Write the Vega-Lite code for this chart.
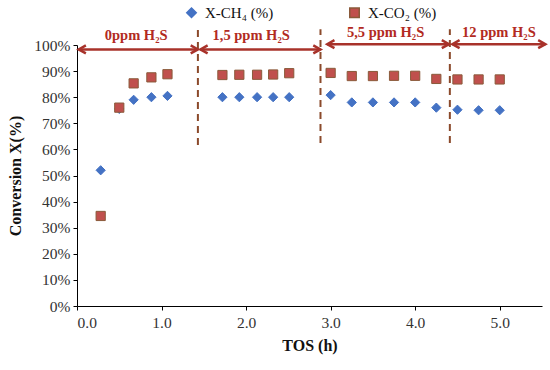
{
  "$schema": "https://vega.github.io/schema/vega-lite/v6.json",
  "autosize": {"type": "none"},
  "width": 465,
  "height": 261,
  "padding": {"left": 77, "top": 45, "right": 8, "bottom": 64},
  "background": "white",
  "config": {
    "view": {"stroke": null},
    "font": "Liberation Serif",
    "axis": {"grid": false, "domainColor": "#000000", "tickColor": "#000000", "labelColor": "#333333", "labelFont": "Liberation Serif", "labelFontSize": 15.5, "titleFont": "Liberation Serif", "titleFontSize": 16, "titleFontWeight": "bold", "titleColor": "#111111", "tickSize": 4, "labelOverlap": false}
  },
  "datasets": {
    "pts": [
      {"tos": 0.28, "value": 0.52, "series": "X-CH₄ (%)"},
      {"tos": 0.50, "value": 0.755, "series": "X-CH₄ (%)"},
      {"tos": 0.67, "value": 0.79, "series": "X-CH₄ (%)"},
      {"tos": 0.88, "value": 0.80, "series": "X-CH₄ (%)"},
      {"tos": 1.07, "value": 0.805, "series": "X-CH₄ (%)"},
      {"tos": 1.72, "value": 0.80, "series": "X-CH₄ (%)"},
      {"tos": 1.92, "value": 0.80, "series": "X-CH₄ (%)"},
      {"tos": 2.13, "value": 0.80, "series": "X-CH₄ (%)"},
      {"tos": 2.32, "value": 0.80, "series": "X-CH₄ (%)"},
      {"tos": 2.51, "value": 0.80, "series": "X-CH₄ (%)"},
      {"tos": 3.0, "value": 0.808, "series": "X-CH₄ (%)"},
      {"tos": 3.25, "value": 0.78, "series": "X-CH₄ (%)"},
      {"tos": 3.5, "value": 0.78, "series": "X-CH₄ (%)"},
      {"tos": 3.75, "value": 0.78, "series": "X-CH₄ (%)"},
      {"tos": 4.0, "value": 0.78, "series": "X-CH₄ (%)"},
      {"tos": 4.25, "value": 0.76, "series": "X-CH₄ (%)"},
      {"tos": 4.5, "value": 0.752, "series": "X-CH₄ (%)"},
      {"tos": 4.75, "value": 0.75, "series": "X-CH₄ (%)"},
      {"tos": 5.0, "value": 0.75, "series": "X-CH₄ (%)"},
      {"tos": 0.28, "value": 0.345, "series": "X-CO₂ (%)"},
      {"tos": 0.50, "value": 0.76, "series": "X-CO₂ (%)"},
      {"tos": 0.67, "value": 0.853, "series": "X-CO₂ (%)"},
      {"tos": 0.88, "value": 0.876, "series": "X-CO₂ (%)"},
      {"tos": 1.07, "value": 0.888, "series": "X-CO₂ (%)"},
      {"tos": 1.72, "value": 0.885, "series": "X-CO₂ (%)"},
      {"tos": 1.92, "value": 0.886, "series": "X-CO₂ (%)"},
      {"tos": 2.13, "value": 0.886, "series": "X-CO₂ (%)"},
      {"tos": 2.32, "value": 0.887, "series": "X-CO₂ (%)"},
      {"tos": 2.51, "value": 0.892, "series": "X-CO₂ (%)"},
      {"tos": 3.0, "value": 0.893, "series": "X-CO₂ (%)"},
      {"tos": 3.25, "value": 0.881, "series": "X-CO₂ (%)"},
      {"tos": 3.5, "value": 0.881, "series": "X-CO₂ (%)"},
      {"tos": 3.75, "value": 0.882, "series": "X-CO₂ (%)"},
      {"tos": 4.0, "value": 0.882, "series": "X-CO₂ (%)"},
      {"tos": 4.25, "value": 0.87, "series": "X-CO₂ (%)"},
      {"tos": 4.5, "value": 0.868, "series": "X-CO₂ (%)"},
      {"tos": 4.75, "value": 0.868, "series": "X-CO₂ (%)"},
      {"tos": 5.0, "value": 0.868, "series": "X-CO₂ (%)"}
    ],
    "arrows": [
      {"tos": 0.02, "tos2": 1.43, "value": 0.983},
      {"tos": 1.46, "tos2": 2.88, "value": 0.983},
      {"tos": 2.96, "tos2": 4.40, "value": 1.003},
      {"tos": 4.44, "tos2": 5.54, "value": 1.003}
    ],
    "headsLeft": [
      {"tos": 0.02, "value": 0.983},
      {"tos": 1.46, "value": 0.983},
      {"tos": 2.96, "value": 1.003},
      {"tos": 4.44, "value": 1.003}
    ],
    "headsRight": [
      {"tos": 1.43, "value": 0.983},
      {"tos": 2.88, "value": 0.983},
      {"tos": 4.40, "value": 1.003},
      {"tos": 5.54, "value": 1.003}
    ],
    "labels": [
      {"tos": 0.70, "value": 1.035, "label": "0ppm H₂S"},
      {"tos": 2.06, "value": 1.035, "label": "1,5 ppm H₂S"},
      {"tos": 3.65, "value": 1.047, "label": "5,5 ppm H₂S"},
      {"tos": 4.99, "value": 1.047, "label": "12 ppm H₂S"}
    ],
    "dividers": [
      {"tos": 1.43, "value": 0.617, "value2": 1.06},
      {"tos": 2.88, "value": 0.625, "value2": 1.06},
      {"tos": 4.41, "value": 0.625, "value2": 1.06}
    ]
  },
  "encoding": {
    "x": {"field": "tos", "type": "quantitative", "title": "TOS (h)", "scale": {"domain": [0, 5.5], "nice": false},
          "axis": {"values": [0, 1, 2, 3, 4, 5], "format": ".1f", "titlePadding": 7, "labelPadding": 5}},
    "y": {"field": "value", "type": "quantitative", "title": "Conversion X(%)", "scale": {"domain": [0, 1], "nice": false},
          "axis": {"values": [0, 0.1, 0.2, 0.3, 0.4, 0.5, 0.6, 0.7, 0.8, 0.9, 1.0], "format": ".0%", "titlePadding": 10, "labelPadding": 3}}
  },
  "layer": [
    {
      "data": {"name": "pts"},
      "mark": {"type": "point", "filled": true, "opacity": 1, "strokeWidth": 1},
      "encoding": {
        "color": {"field": "series", "type": "nominal", "scale": {"domain": ["X-CH₄ (%)", "X-CO₂ (%)"], "range": ["#4472C4", "#C0504D"]},
                  "legend": {"orient": "none", "legendX": 107, "legendY": -40, "direction": "horizontal", "title": null, "labelFont": "Liberation Serif", "labelFontSize": 15, "labelColor": "#111111", "symbolSize": 90, "columnPadding": 72, "labelOffset": 6}},
        "shape": {"field": "series", "type": "nominal", "scale": {"domain": ["X-CH₄ (%)", "X-CO₂ (%)"], "range": ["diamond", "square"]}},
        "stroke": {"field": "series", "type": "nominal", "scale": {"domain": ["X-CH₄ (%)", "X-CO₂ (%)"], "range": ["#4472C4", "#8A5A3A"]}},
        "size": {"value": 85}
      }
    },
    {
      "data": {"name": "dividers"},
      "mark": {"type": "rule", "color": "#8B4A2B", "strokeWidth": 2, "strokeDash": [7, 5]},
      "encoding": {"y2": {"field": "value2"}}
    },
    {
      "data": {"name": "arrows"},
      "mark": {"type": "rule", "color": "#A8322A", "strokeWidth": 2.5},
      "encoding": {"x2": {"field": "tos2"}}
    },
    {
      "data": {"name": "headsLeft"},
      "mark": {"type": "point", "shape": "M1.8,-1L0,0L1.8,1", "filled": false, "stroke": "#A8322A", "strokeWidth": 2.5, "size": 64, "opacity": 1},
      "encoding": {}
    },
    {
      "data": {"name": "headsRight"},
      "mark": {"type": "point", "shape": "M-1.8,-1L0,0L-1.8,1", "filled": false, "stroke": "#A8322A", "strokeWidth": 2.5, "size": 64, "opacity": 1},
      "encoding": {}
    },
    {
      "data": {"name": "labels"},
      "mark": {"type": "text", "font": "Liberation Serif", "fontSize": 14.5, "fontWeight": "bold", "color": "#B22A22", "baseline": "middle", "align": "center"},
      "encoding": {"text": {"field": "label"}}
    }
  ]
}
